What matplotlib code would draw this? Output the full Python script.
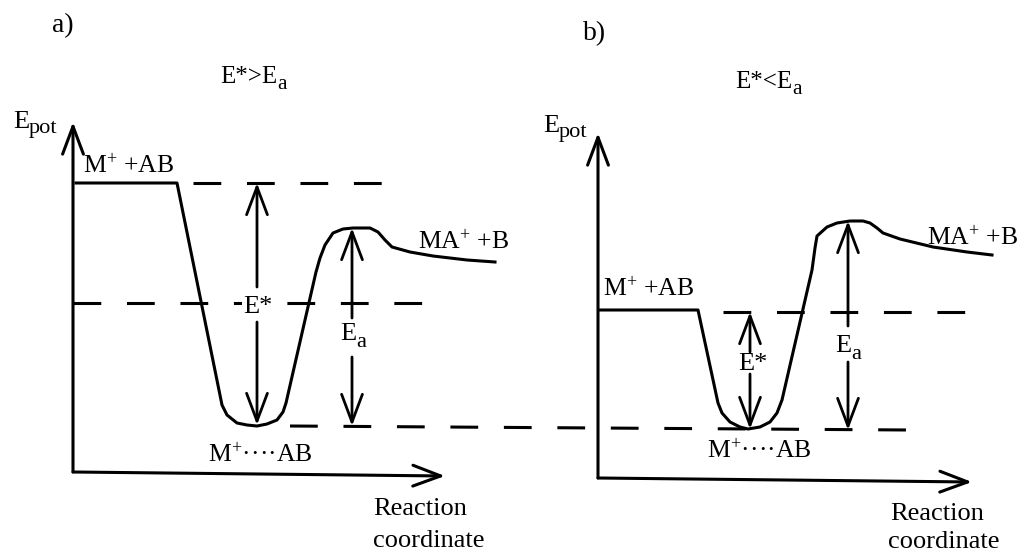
import matplotlib.pyplot as plt
from matplotlib.patches import FancyArrowPatch, ArrowStyle

plt.rcParams['font.family'] = ['Liberation Serif', 'DejaVu Serif']
plt.rcParams['mathtext.fontset'] = 'custom'
plt.rcParams['mathtext.rm'] = 'Liberation Serif'
plt.rcParams['mathtext.it'] = 'Liberation Serif:italic'
plt.rcParams['lines.scale_dashes'] = False

# potential curves (pixel units, y down)
curve_a_x = [76, 177, 222, 227, 237, 247, 257, 267, 277, 283, 286, 316, 320, 325, 333, 343,
             353, 370, 378, 385, 392, 410, 433, 467, 495]
curve_a_y = [183, 183, 405, 415, 423, 425, 426, 424, 420, 412, 403, 272, 258, 245, 233, 229,
             228, 228, 232, 240, 247, 252, 256, 260, 262]
curve_b_x = [600, 698, 718, 722, 730, 740, 748, 760, 770, 777, 782, 812, 815, 817, 827, 837,
             850, 863, 870, 877, 883, 900, 933, 967, 992]
curve_b_y = [310, 310, 403, 413, 422, 427, 429, 427, 422, 413, 400, 270, 248, 236, 227, 223,
             221, 221, 223, 228, 233, 239, 247, 252, 255]

# dashed reference levels: x start, x end, y start, y end
dash_x0 = [193, 73, 290, 723]
dash_x1 = [384, 424, 908, 967]
dash_y0 = [183, 303, 426, 312]
dash_y1 = [183, 303, 430, 312]

# axes (corner, top of y arrow, tip of x arrow)
axis_corner = [(73, 472), (598, 478)]
axis_ytip = [(73, 122), (598, 133)]
axis_xtip = [(445, 476), (972, 482)]

# energy arrows: x, from, tip
energy_arrows = [
    (257, 287, 183), (257, 322, 425),   # a) E*
    (352, 318, 228), (352, 357, 426),   # a) Ea
    (750, 352, 312), (750, 374, 429),   # b) E*
    (848, 326, 221), (848, 362, 430),   # b) Ea
]

# plain labels: x, y(baseline), text, size
labels = [
    (52, 32, 'a)', 20),
    (583, 40, 'b)', 20),
    (83, 173, r'M$^{+}$ +AB', 18.5),
    (418, 249, r'MA$^{+}$ +B', 18.5),
    (208, 462, r'M$^{+}$····AB', 18.5),
    (373, 515, 'Reaction', 19),
    (373, 547, 'coordinate', 19),
    (603, 296, r'M$^{+}$ +AB', 18.5),
    (927, 245, r'MA$^{+}$ +B', 18.5),
    (707, 458, r'M$^{+}$····AB', 18.5),
    (738, 370, 'E*', 19),
    (890, 520, 'Reaction', 19),
    (888, 548, 'coordinate', 19),
]

# labels with a subscript: x, y(baseline), main, subscript, size, drop
sub_labels = [
    (220, 83, 'E*>E', 'a', 18, 6),
    (735, 88, 'E*<E', 'a', 18, 6),
    (13, 128, 'E', 'pot', 19, 5),
    (543, 132, 'E', 'pot', 19, 5),
    (340, 340, 'E', 'a', 19, 7),
    (835, 352, 'E', 'a', 19, 7),
]

fig = plt.figure(figsize=(10.19, 5.51), dpi=100)
ax = fig.add_axes([0, 0, 1, 1])
ax.set_xlim(0, 1019)
ax.set_ylim(551, 0)
ax.axis('off')

lw = 2.2
head = ArrowStyle('->', head_length=20, head_width=7.5)

for i in range(len(dash_x0)):
    ax.plot([dash_x0[i], dash_x1[i]], [dash_y0[i], dash_y1[i]], color='black', lw=lw,
            dashes=(20, 18.5), solid_capstyle='butt', dash_capstyle='butt')

ax.plot(curve_a_x, curve_a_y, color='black', lw=lw, solid_joinstyle='round')
ax.plot(curve_b_x, curve_b_y, color='black', lw=lw, solid_joinstyle='round')

for c, yt, xt in zip(axis_corner, axis_ytip, axis_xtip):
    ax.add_patch(FancyArrowPatch(c, yt, arrowstyle=head, mutation_scale=1, lw=lw,
                                 color='black', shrinkA=0, shrinkB=0))
    ax.add_patch(FancyArrowPatch(c, xt, arrowstyle=head, mutation_scale=1, lw=lw,
                                 color='black', shrinkA=0, shrinkB=0))

for x, y0, y1 in energy_arrows:
    ax.add_patch(FancyArrowPatch((x, y0), (x, y1), arrowstyle=head, mutation_scale=1,
                                 lw=2.0, color='black', shrinkA=0, shrinkB=0))

for x, y, s, size in labels:
    ax.text(x, y, s, fontsize=size, ha='left', va='baseline')

renderer = fig.canvas.get_renderer()
for x, y, main, sub, size, drop in sub_labels:
    t = ax.text(x, y, main, fontsize=size, ha='left', va='baseline')
    w = t.get_window_extent(renderer).width
    ax.text(x + w, y + drop, sub, fontsize=size * 0.85, ha='left', va='baseline')

# E* label of panel a sits on the dashed line
ax.text(243, 313, 'E*', fontsize=19, ha='left', va='baseline',
        bbox=dict(fc='white', ec='none', pad=1))

fig.savefig('out.png', dpi=100)
